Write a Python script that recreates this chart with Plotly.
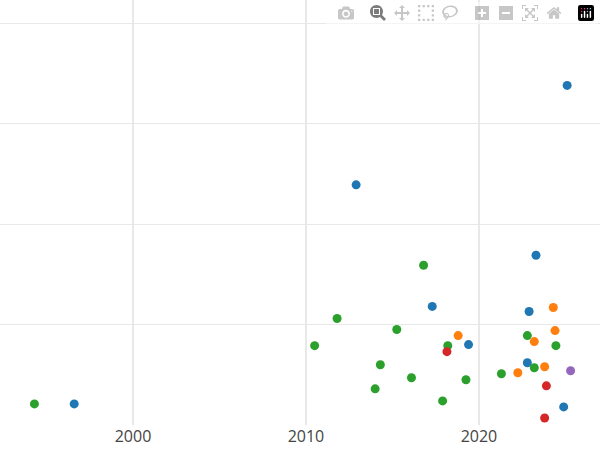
import plotly.graph_objects as go

blue_x = [1996.6, 2012.9, 2025.1, 2023.3, 2017.3, 2022.9, 2019.4, 2022.8, 2024.9]
blue_y = [0.21, 2.39, 3.38, 1.69, 1.18, 1.13, 0.80, 0.62, 0.18]
orange_x = [2018.8, 2024.3, 2024.4, 2023.2, 2023.8, 2022.25]
orange_y = [0.89, 1.17, 0.94, 0.83, 0.58, 0.52]
green_x = [1994.3, 2011.8, 2010.5, 2016.8, 2015.25, 2014.3, 2014.0, 2016.1, 2017.9, 2018.2, 2019.25, 2021.3, 2022.8, 2023.2, 2024.45]
green_y = [0.21, 1.06, 0.79, 1.59, 0.95, 0.60, 0.36, 0.47, 0.24, 0.79, 0.45, 0.51, 0.89, 0.57, 0.79]
red_x = [2018.15, 2023.9, 2023.8]
red_y = [0.73, 0.39, 0.07]
purple_x = [2025.3]
purple_y = [0.54]

series = [(blue_x, blue_y, "#1f77b4"), (orange_x, orange_y, "#ff7f0e"),
          (green_x, green_y, "#2ca02c"), (red_x, red_y, "#d62728"),
          (purple_x, purple_y, "#9467bd")]

fig = go.Figure()
for x, y, c in series:
    fig.add_trace(go.Scatter(x=x, y=y, mode="markers", marker=dict(color=c, size=9), showlegend=False))

fig.update_layout(
    width=600, height=450, margin=dict(l=0, r=0, t=0, b=25),
    plot_bgcolor="white", paper_bgcolor="white",
    font=dict(family="Open Sans", size=16, color="#444"),
    xaxis=dict(range=[1992.31, 2027.0], tickvals=[2000, 2010, 2020], showgrid=True,
               gridcolor="#e8e8e8", gridwidth=2, zeroline=False, ticks=""),
    yaxis=dict(range=[0, 4.23], tickvals=[1, 2, 3, 4], showticklabels=False,
               showgrid=True, gridcolor="#e8e8e8", gridwidth=1, zeroline=False),
)
fig.write_html("out.html", post_script="document.body.style.margin='0';")
